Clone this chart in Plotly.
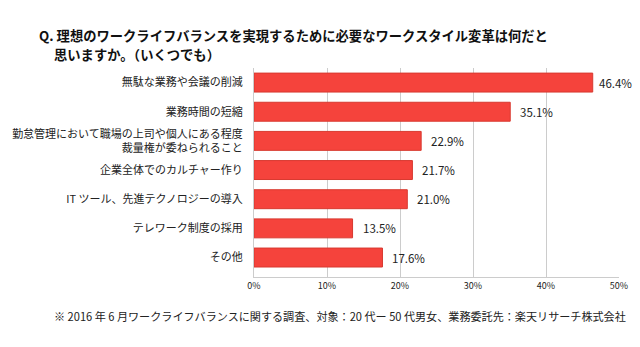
import plotly.graph_objects as go

categories = [
    "無駄な業務や会議の削減",
    "業務時間の短縮",
    "勤怠管理において職場の上司や個人にある程度<br>裁量権が委ねられること",
    "企業全体でのカルチャー作り",
    "IT ツール、先進テクノロジーの導入",
    "テレワーク制度の採用",
    "その他",
]
values = [46.4, 35.1, 22.9, 21.7, 21.0, 13.5, 17.6]
value_labels = ["46.4%", "35.1%", "22.9%", "21.7%", "21.0%", "13.5%", "17.6%"]
x_ticks = [0, 10, 20, 30, 40, 50]
x_tick_labels = ["0%", "10%", "20%", "30%", "40%", "50%"]

FONT = "Noto Sans CJK JP"
W, H = 640, 347
L, R, T, B = 252, 624, 68, 277
XMAX = 50


def xp(px):
    return (px - L) / (R - L)


def yp(py):
    return (B - py) / (B - T)


fig = go.Figure(go.Bar(
    x=values,
    y=list(range(len(categories))),
    orientation="h",
    marker=dict(color="#F5433C", line=dict(color="#D8392F", width=1)),
    width=0.65,
    hoverinfo="skip",
))

annotations = []
# value labels placed just right of each bar end (shift reduced near the right edge)
for i, (v, lab) in enumerate(zip(values, value_labels)):
    end_px = L + v / XMAX * (R - L)
    label_w = 36
    shift = min(9, max(2, W - 2 - label_w - end_px))
    annotations.append(dict(
        x=v, y=i, xref="x", yref="y", text=lab, showarrow=False,
        xanchor="left", yanchor="middle", xshift=shift, borderpad=0,
        font=dict(family=FONT, size=11.5, color="#222"),
    ))

annotations += [
    dict(text="<b>Q. 理想のワークライフバランスを実現するために必要なワークスタイル変革は何だと</b>",
         xref="paper", yref="paper", x=xp(32), y=yp(35.5), xanchor="left", yanchor="middle",
         showarrow=False, borderpad=0, font=dict(family=FONT, size=13.3, color="#111")),
    dict(text="<b>思いますか。（いくつでも）</b>",
         xref="paper", yref="paper", x=xp(47), y=yp(54.5), xanchor="left", yanchor="middle",
         showarrow=False, borderpad=0, font=dict(family=FONT, size=13.3, color="#111")),
    dict(text="※ 2016 年 6 月ワークライフバランスに関する調査、対象：20 代ー 50 代男女、業務委託先：楽天リサーチ株式会社",
         xref="paper", yref="paper", x=xp(47), y=yp(316), xanchor="left", yanchor="middle",
         showarrow=False, borderpad=0, font=dict(family=FONT, size=11.1, color="#222")),
]

fig.update_layout(
    width=W, height=H,
    margin=dict(l=L, r=W - R, t=T, b=H - B),
    paper_bgcolor="white", plot_bgcolor="white",
    font=dict(family=FONT, color="#222"),
    showlegend=False,
    xaxis=dict(
        range=[0, XMAX], tickvals=x_ticks, ticktext=x_tick_labels,
        showgrid=True, gridcolor="#cccccc", gridwidth=1,
        showline=True, linecolor="#cccccc", linewidth=1,
        zeroline=False, ticks="",
        tickfont=dict(family=FONT, size=9, color="#222"),
        fixedrange=True,
    ),
    yaxis=dict(
        range=[6.668, -0.5],
        tickvals=list(range(len(categories))), ticktext=categories,
        showgrid=False, showline=True, linecolor="#cccccc", linewidth=1,
        zeroline=False, ticks="", ticklabelstandoff=8,
        tickfont=dict(family=FONT, size=11, color="#222"),
        fixedrange=True,
    ),
    annotations=annotations,
)

fig.write_html("out.html")
